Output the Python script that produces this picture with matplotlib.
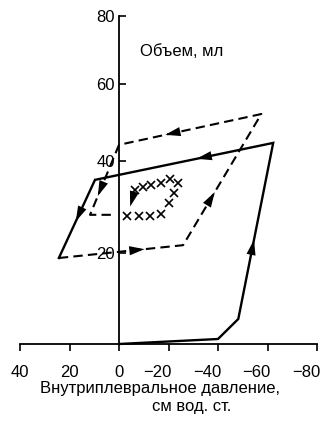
import numpy as np
import matplotlib
matplotlib.use("Agg")
import matplotlib.pyplot as plt
from matplotlib.patches import FancyArrowPatch
from matplotlib.transforms import ScaledTranslation

plt.rcParams['font.family'] = ['Liberation Sans', 'DejaVu Sans']

# ---- data (pressure, cm H2O ; volume, ml) ----
solid_p = [0.0, -40.0, -48.2, -62.3, 9.7, 24.3]
solid_v = [0.0, 1.1, 5.5, 44.7, 35.9, 18.9]
dash_p = [24.3, -25.9, -57.5, 0.0, 11.7, 1.5]
dash_v = [18.9, 21.7, 52.2, 44.2, 28.3, 28.3]
quiet_p = [-6.4, -9.7, -13.1, -17.1, -20.5, -23.9, -22.2, -20.2, -3.4, -8.1, -12.4, -17.1]
quiet_v = [33.7, 34.4, 34.8, 35.3, 36.0, 35.3, 33.1, 30.9, 28.0, 28.0, 28.0, 28.5]
x_ticks = [40, 20, 0, -20, -40, -60, -80]
y_ticks = [20, 40, 60, 80]
# arrows: (segment start index, segment end index, fraction along segment)
solid_arrows = [(2, 3, 0.42), (3, 4, 0.40), (4, 5, 0.50)]
dash_arrows = [(0, 1, 0.66), (1, 2, 0.375), (2, 3, 0.645), (3, 4, 0.70)]
quiet_arrows = [(0, 8, 0.6)]

# knots of the (slightly non-uniform) vertical scale of the printed figure
YV = [-100, 0, 20, 40, 60, 80, 200]
YP = [-455, 0, 91, 183, 260, 328, 736]


def fwd(v):
    return np.interp(v, YV, YP)


def inv(p):
    return np.interp(p, YP, YV)


fig = plt.figure(figsize=(3.27, 4.22), dpi=100)
ax = fig.add_axes([20 / 327, 1 - 344 / 422, 297 / 327, 328 / 422])
ax.set_yscale('function', functions=(fwd, inv))
ax.set_xlim(40, -80)
ax.set_ylim(0, 80)

for s in ['top', 'right']:
    ax.spines[s].set_visible(False)
ax.spines['left'].set_position(('data', 0))
for s in ['left', 'bottom']:
    ax.spines[s].set_linewidth(1.3)

ax.set_xticks(x_ticks)
ax.set_xticklabels([str(t) if t >= 0 else '\u2212' + str(-t) for t in x_ticks])
ax.set_yticks(y_ticks)
ax.tick_params(axis='y', direction='in', length=5, width=1.2, pad=3, labelsize=12)
ax.tick_params(axis='x', direction='out', length=5, width=1.2, pad=10, labelsize=12)
for lbl, val in zip(ax.get_xticklabels(), x_ticks):
    if val < 0:
        lbl.set_transform(lbl.get_transform() + ScaledTranslation(-11 / 100, 0, fig.dpi_scale_trans))
for lbl in ax.get_yticklabels():
    lbl.set_bbox(dict(facecolor='white', edgecolor='none', pad=0.6))

ax.plot(solid_p, solid_v, color='black', lw=1.7, solid_joinstyle='miter', clip_on=False, zorder=3)
ax.plot(dash_p, dash_v, color='black', lw=1.5, dashes=(4.5, 2.5), clip_on=False, zorder=3)
ax.plot(quiet_p, quiet_v, linestyle='none', marker='x', ms=5.5, mew=1.2, color='black', zorder=3)


def point_at(px, py, i, j, f):
    yi, yj = fwd(py[i]), fwd(py[j])
    x = px[i] + (px[j] - px[i]) * f
    y = inv(yi + (yj - yi) * f)
    return x, y


def draw_arrows(px, py, specs):
    for i, j, f in specs:
        a = point_at(px, py, i, j, f - 0.03)
        b = point_at(px, py, i, j, f + 0.03)
        arr = FancyArrowPatch(a, b, arrowstyle='-|>,head_length=1.0,head_width=0.3',
                              mutation_scale=11, color='black', lw=0,
                              shrinkA=0, shrinkB=0, zorder=4)
        ax.add_patch(arr)


draw_arrows(solid_p, solid_v, solid_arrows)
draw_arrows(dash_p, dash_v, dash_arrows)
draw_arrows(quiet_p, quiet_v, quiet_arrows)

fig.text(140 / 327, 1 - 52 / 422, 'Объем, мл', ha='left', va='center', fontsize=12)
fig.text(160 / 327, 1 - 388 / 422, 'Внутриплевральное давление,', ha='center', va='center', fontsize=12)
fig.text(192 / 327, 1 - 406 / 422, 'см вод. ст.', ha='center', va='center', fontsize=12)

fig.savefig('out.png', dpi=100)
